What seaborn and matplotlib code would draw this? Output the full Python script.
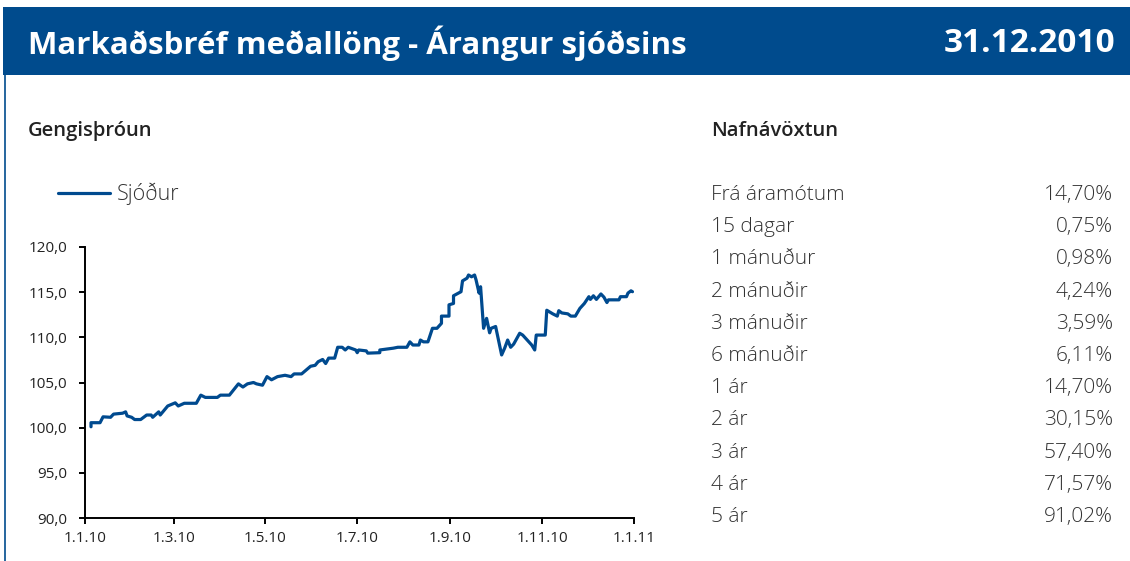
import numpy as np
import pandas as pd
import matplotlib
matplotlib.use("Agg")
import matplotlib.pyplot as plt
import seaborn as sns
from matplotlib.lines import Line2D
from matplotlib.patches import Rectangle

# ---------------- data ----------------
title_text = "Markaðsbréf meðallöng - Árangur sjóðsins"
date_text = "31.12.2010"
chart_title = "Gengisþróun"
table_title = "Nafnávöxtun"
series_name = "Sjóður"

start_date = "2010-01-01"
# days after 1.1.2010
day_offsets = [4, 4, 10, 12, 17, 19, 25, 27, 28, 31, 33, 37, 39, 41, 44, 45, 49, 50,
               55, 60, 62, 66, 74, 77, 80, 88, 90, 96, 102, 105, 108, 112, 114, 118,
               121, 124, 128, 133, 137, 139, 144, 150, 153, 155, 158, 160, 162, 166,
               168, 171, 173, 175, 180, 181, 182, 187, 188, 196, 196, 205, 208, 214,
               216, 218, 222, 223, 225, 228, 231, 234, 237, 237, 242, 242, 245, 245,
               250, 251, 254, 255, 257, 259, 260, 262, 263, 265, 267, 269, 270, 273,
               277, 279, 281, 283, 285, 289, 291, 297, 299, 300, 306, 307, 311, 314,
               315, 317, 321, 323, 326, 329, 332, 335, 336, 338, 340, 343, 345, 347,
               348, 355, 356, 360, 361, 363, 364]
fund_values = [100.10, 100.55, 100.55, 101.20, 101.15, 101.50, 101.60, 101.75, 101.30,
               101.15, 100.90, 100.90, 101.15, 101.40, 101.40, 101.15, 101.75, 101.40,
               102.40, 102.75, 102.40, 102.70, 102.70, 103.60, 103.35, 103.35, 103.60,
               103.60, 104.85, 104.50, 104.85, 105.00, 104.85, 104.70, 105.65, 105.30,
               105.65, 105.80, 105.65, 105.95, 105.95, 106.80, 106.90, 107.30, 107.55,
               107.10, 107.70, 107.70, 108.90, 108.90, 108.60, 108.90, 108.60, 108.30,
               108.60, 108.50, 108.25, 108.30, 108.60, 108.80, 108.90, 108.90, 109.50,
               109.15, 109.15, 109.70, 109.50, 109.50, 111.00, 111.00, 111.55, 112.35,
               112.35, 113.60, 113.75, 114.60, 115.05, 116.25, 116.55, 116.90, 116.70,
               116.90, 116.35, 114.90, 115.60, 111.00, 112.10, 110.50, 111.00, 111.20,
               108.05, 108.80, 109.70, 108.90, 109.25, 110.45, 110.25, 109.15, 108.60,
               110.25, 110.25, 113.00, 112.60, 112.35, 112.95, 112.70, 112.60, 112.35,
               112.35, 113.20, 113.75, 114.50, 114.20, 114.60, 114.20, 114.80, 114.45,
               113.85, 114.15, 114.15, 114.50, 114.50, 114.90, 115.15, 115.05]

x_tick_dates = ["2010-01-01", "2010-03-01", "2010-05-01", "2010-07-01",
                "2010-09-01", "2010-11-01", "2011-01-01"]
x_tick_labels = ["1.1.10", "1.3.10", "1.5.10", "1.7.10", "1.9.10", "1.11.10", "1.1.11"]
y_ticks = [90, 95, 100, 105, 110, 115, 120]
y_tick_labels = ["90,0", "95,0", "100,0", "105,0", "110,0", "115,0", "120,0"]

period_labels = ["Frá áramótum", "15 dagar", "1 mánuður", "2 mánuðir", "3 mánuðir",
                 "6 mánuðir", "1 ár", "2 ár", "3 ár", "4 ár", "5 ár"]
period_returns = ["14,70%", "0,75%", "0,98%", "4,24%", "3,59%", "6,11%",
                  "14,70%", "30,15%", "57,40%", "71,57%", "91,02%"]

# ---------------- style ----------------
BLUE = "#004B8D"
LINE_BLUE = "#004A8F"
TEXT = "#222222"

sns.set_style("ticks")
plt.rcParams["font.family"] = ["Open Sans", "DejaVu Sans"]

W, H = 1130, 561
fig = plt.figure(figsize=(W / 100, H / 100), dpi=100)
fig.patch.set_facecolor("white")

def fx(px):
    return px / W

def fy(py):
    return 1 - py / H

# header band
fig.patches.append(Rectangle((fx(3), fy(75)), 1, (75 - 7) / H,
                             transform=fig.transFigure, facecolor=BLUE,
                             edgecolor="none", zorder=0))
# left frame line
fig.lines.append(Line2D([fx(4.5), fx(4.5)], [0, fy(75)], transform=fig.transFigure,
                        color=BLUE, linewidth=1.2))

fig.text(fx(28), fy(43), title_text, color="white", fontsize=22.5, fontweight="bold",
         ha="left", va="center")
fig.text(fx(1115), fy(43), date_text, color="white", fontsize=24, fontweight="bold",
         ha="right", va="center")

fig.text(fx(28), fy(131), chart_title, color=TEXT, fontsize=14.5, fontweight="semibold",
         ha="left", va="center")
fig.text(fx(711), fy(131), table_title, color=TEXT, fontsize=14.5, fontweight="semibold",
         ha="left", va="center")

# table
row_y0 = 195
row_dy = 32.2
for i, (lab, val) in enumerate(zip(period_labels, period_returns)):
    yy = fy(row_y0 + i * row_dy)
    fig.text(fx(711), yy, lab, color="#333333", fontsize=15, fontweight="light",
             ha="left", va="center")
    fig.text(fx(1113), yy, val, color="#333333", fontsize=15, fontweight="light",
             ha="right", va="center")

# chart
df = pd.DataFrame({
    "date": pd.Timestamp(start_date) + pd.to_timedelta(day_offsets, unit="D"),
    "value": fund_values,
    "series": series_name,
})

ax = fig.add_axes([fx(85), fy(518), (634 - 85) / W, (518 - 247) / H])
sns.lineplot(data=df, x="date", y="value", hue="series", palette=[LINE_BLUE],
             estimator=None, sort=False, linewidth=2.3, ax=ax, legend=False)

ax.set_xlim(pd.Timestamp(x_tick_dates[0]), pd.Timestamp(x_tick_dates[-1]))
ax.set_ylim(y_ticks[0], y_ticks[-1])
ax.set_xticks([pd.Timestamp(d) for d in x_tick_dates])
ax.set_xticklabels(x_tick_labels)
ax.set_yticks(y_ticks)
ax.set_yticklabels(y_tick_labels)
ax.set_xlabel("")
ax.set_ylabel("")
sns.despine(ax=ax)
for s in ["left", "bottom"]:
    ax.spines[s].set_color("black")
    ax.spines[s].set_linewidth(1.4)
ax.tick_params(axis="both", direction="out", length=4.5, width=1.4, color="black",
               labelsize=11, labelcolor=TEXT)
ax.tick_params(axis="y", pad=8)
ax.tick_params(axis="x", pad=5)
ax.set_facecolor("white")

# legend
handle = Line2D([], [], color=LINE_BLUE, linewidth=2.3)
leg = fig.legend([handle], [series_name], loc="center left",
                 bbox_to_anchor=(fx(58), fy(194)), frameon=False, borderpad=0,
                 borderaxespad=0, handlelength=2.4, handletextpad=0.35,
                 prop={"size": 15.5, "weight": "light"})
for t in leg.get_texts():
    t.set_color("#333333")

fig.savefig("out.png", dpi=100)
